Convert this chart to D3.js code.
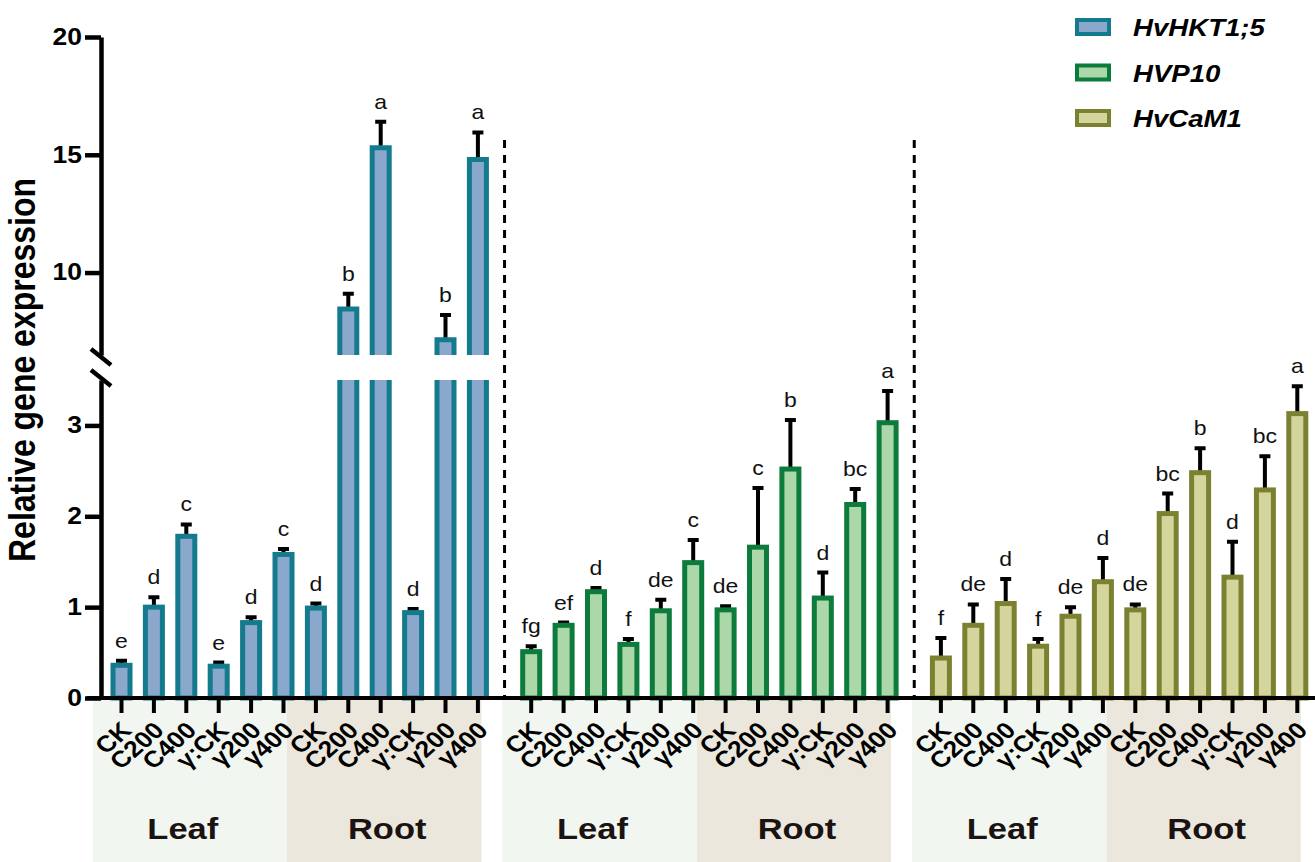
<!DOCTYPE html>
<html>
<head>
<meta charset="utf-8">
<script src="https://cdn.jsdelivr.net/npm/d3@7"></script>
<style>
body { margin: 0; background: #fff; }
text { font-family: "Liberation Sans", Arial, sans-serif; }
</style>
</head>
<body>
<svg width="1315" height="862"></svg>
<script>
// chart values
var genes = ["HvHKT1;5", "HVP10", "HvCaM1"];
var tissues = ["Leaf", "Root"];
var treatments = ["CK", "C200", "C400", "γ:CK", "γ200", "γ400"];

var hktMean = [0.36, 1.00, 1.78, 0.35, 0.83, 1.58, 0.99, 8.45, 15.3, 0.94, 7.15, 14.8];
var hktErr  = [0.05, 0.11, 0.13, 0.04, 0.06, 0.06, 0.05, 0.65, 1.10, 0.04, 1.05, 1.15];
var hktSig  = ["e", "d", "c", "e", "d", "c", "d", "b", "a", "d", "b", "a"];

var vp10Mean = [0.51, 0.80, 1.17, 0.59, 0.96, 1.49, 0.97, 1.66, 2.52, 1.10, 2.13, 3.03];
var vp10Err  = [0.06, 0.03, 0.04, 0.06, 0.12, 0.25, 0.04, 0.65, 0.54, 0.28, 0.17, 0.35];
var vp10Sig  = ["fg", "ef", "d", "f", "de", "c", "de", "c", "b", "d", "bc", "a"];

var camMean = [0.44, 0.80, 1.04, 0.57, 0.90, 1.28, 0.97, 2.03, 2.48, 1.33, 2.29, 3.13];
var camErr  = [0.22, 0.23, 0.27, 0.08, 0.10, 0.26, 0.06, 0.22, 0.27, 0.39, 0.37, 0.30];
var camSig  = ["f", "de", "d", "f", "de", "d", "de", "bc", "b", "d", "bc", "a"];

var yTicksLow = [0, 1, 2, 3];
var yTicksHigh = [10, 15, 20];
var yBreak = [3.5, 6.5];

var strokeColors = ["#147a8d", "#0c7b3b", "#7c8031"];
var fillColors = ["#8aa7cc", "#acd8a9", "#d4d59c"];
var bandColors = ["#f1f7f0", "#ece7dc"];

var means = [hktMean, vp10Mean, camMean],
    errs = [hktErr, vp10Err, camErr],
    sigs = [hktSig, vp10Sig, camSig];

var svg = d3.select("svg"),
    sx = 1.15; // figure is a bit stretched horizontally

var yLow = d3.scaleLinear().domain([0, yBreak[0]]).range([698, 380]),
    yHigh = d3.scaleLinear().domain([yBreak[1], 20]).range([355, 37]);

function yv(v) {
    return v <= yBreak[0] ? yLow(v) : yHigh(v);
}

var x0 = d3.scaleBand().domain(d3.range(genes.length)).range([105.3, 1313.5]).paddingInner(0.051),
    x1 = d3.scaleBand().domain(d3.range(tissues.length * treatments.length)).range([0, x0.bandwidth()]);

function cx(g, i) {
    return x0(g) + x1(i) + x1.bandwidth() / 2;
}

var data = genes.map(function (g, gi) {
    return {
        gi: gi,
        values: means[gi].map(function (m, i) {
            return { gi: gi, i: i, m: m, e: errs[gi][i], s: sigs[gi][i] };
        })
    };
});

// tissue bands below the axis
genes.forEach(function (g, gi) {
    tissues.forEach(function (t, ti) {
        var bx = x0(gi) + x1(ti * 6) - 12.7,
            bw = 6 * x1.step();
        svg.append("rect")
            .attr("x", bx).attr("y", 700)
            .attr("width", bw).attr("height", 162)
            .attr("fill", bandColors[ti]);
        svg.append("text")
            .attr("transform", "translate(" + (bx + bw / 2 + (ti == 0 ? -7 : 3)) + ",839) scale(" + sx + ",1)")
            .attr("text-anchor", "middle")
            .style("font-weight", "bold")
            .style("font-size", "30px")
            .attr("fill", "#1a1311")
            .text(t);
    });
});

// dashed separators
for (var k = 0; k < genes.length - 1; k++) {
    var dx = (x0(k) + x0.bandwidth() + x0(k + 1)) / 2;
    svg.append("line")
        .attr("x1", dx).attr("x2", dx)
        .attr("y1", 140).attr("y2", 698)
        .attr("stroke", "#000")
        .attr("stroke-width", 3)
        .attr("stroke-dasharray", "8,7");
}

var bars = svg.selectAll(".gene")
    .data(data)
    .enter().append("g")
    .attr("class", "gene");

var bar = bars.selectAll(".bar")
    .data(function (d) { return d.values; })
    .enter().append("g")
    .attr("class", "bar");

// error bars (upper only), drawn under the bars
bar.append("path")
    .attr("d", function (d) {
        var x = cx(d.gi, d.i), top = yv(d.m + d.e);
        return "M" + x + "," + yv(d.m) + "V" + top + "M" + (x - 5.5) + "," + top + "H" + (x + 5.5);
    })
    .attr("fill", "none")
    .attr("stroke", "#000")
    .attr("stroke-width", 4);

var bw = 17;
bar.each(function (d) {
    var g = d3.select(this),
        l = cx(d.gi, d.i) - bw / 2,
        r = l + bw,
        fill = fillColors[d.gi],
        stroke = strokeColors[d.gi];
    if (d.m <= yBreak[0]) {
        g.append("rect")
            .attr("x", l).attr("y", yLow(d.m))
            .attr("width", bw).attr("height", yLow(0) - yLow(d.m))
            .attr("fill", fill)
            .attr("stroke", stroke)
            .attr("stroke-width", 5);
    } else {
        // lower piece, open at the break
        g.append("rect")
            .attr("x", l).attr("y", yLow(yBreak[0]))
            .attr("width", bw).attr("height", yLow(0) - yLow(yBreak[0]))
            .attr("fill", fill);
        g.append("path")
            .attr("d", "M" + l + "," + yLow(0) + "V" + yLow(yBreak[0]) + "M" + r + "," + yLow(yBreak[0]) + "V" + yLow(0))
            .attr("stroke", stroke).attr("stroke-width", 5).attr("fill", "none");
        // upper piece
        g.append("rect")
            .attr("x", l).attr("y", yHigh(d.m))
            .attr("width", bw).attr("height", yHigh(yBreak[1]) - yHigh(d.m))
            .attr("fill", fill);
        g.append("path")
            .attr("d", "M" + l + "," + yHigh(yBreak[1]) + "V" + yHigh(d.m) + "H" + r + "V" + yHigh(yBreak[1]))
            .attr("stroke", stroke).attr("stroke-width", 5).attr("fill", "none");
    }
});

// significance letters
bar.append("text")
    .attr("transform", function (d) {
        return "translate(" + cx(d.gi, d.i) + "," + (yv(d.m + d.e) - 13) + ") scale(" + sx + ",1)";
    })
    .attr("text-anchor", "middle")
    .style("font-size", "20px")
    .attr("fill", "#111")
    .text(function (d) { return d.s; });

// x axis line, ticks and labels
svg.append("line")
    .attr("x1", 87).attr("x2", 1315)
    .attr("y1", 698).attr("y2", 698)
    .attr("stroke", "#000").attr("stroke-width", 4);

var tick = svg.selectAll(".xtick")
    .data(d3.merge(data.map(function (d) { return d.values; })))
    .enter().append("g")
    .attr("class", "xtick");

tick.append("line")
    .attr("x1", function (d) { return cx(d.gi, d.i); })
    .attr("x2", function (d) { return cx(d.gi, d.i); })
    .attr("y1", 698).attr("y2", 713)
    .attr("stroke", "#000").attr("stroke-width", 4);

tick.append("text")
    .attr("transform", function (d) {
        return "translate(" + (cx(d.gi, d.i) + 5) + ",726) scale(" + sx + ",1) rotate(-45)";
    })
    .attr("text-anchor", "end")
    .attr("dy", "0.35em")
    .style("font-weight", "bold")
    .style("font-size", "23px")
    .text(function (d) { return treatments[d.i % 6]; });

// broken y axis
function styleAxis(g) {
    g.attr("font-family", null).attr("font-size", null);
    g.select(".domain").attr("stroke-width", 4.5);
    g.selectAll(".tick line").attr("stroke-width", 4.5);
    g.selectAll(".tick text")
        .attr("x", -19 / sx)
        .attr("transform", "scale(" + sx + ",1)")
        .style("font-weight", "bold")
        .style("font-size", "23px");
}

svg.append("g")
    .attr("transform", "translate(101,0)")
    .call(d3.axisLeft(yLow).tickValues(yTicksLow).tickFormat(d3.format("d"))
        .tickSize(16).tickSizeOuter(0).tickPadding(3))
    .call(styleAxis);

svg.append("g")
    .attr("transform", "translate(101,0)")
    .call(d3.axisLeft(yHigh).tickValues(yTicksHigh).tickFormat(d3.format("d"))
        .tickSize(16).tickSizeOuter(0).tickPadding(3))
    .call(styleAxis);

[357, 378].forEach(function (by) {
    svg.append("line")
        .attr("x1", 91).attr("y1", by - 8)
        .attr("x2", 111).attr("y2", by + 8)
        .attr("stroke", "#000").attr("stroke-width", 4.5);
});

svg.append("text")
    .attr("transform", "translate(35,370) scale(" + sx + ",1) rotate(-90)")
    .attr("text-anchor", "middle")
    .style("font-weight", "bold")
    .style("font-size", "32px")
    .text("Relative gene expression");

// legend
var legend = svg.selectAll(".legend")
    .data(genes)
    .enter().append("g")
    .attr("class", "legend")
    .attr("transform", function (d, i) { return "translate(1077," + (20 + i * 45.5) + ")"; });

legend.append("rect")
    .attr("width", 32).attr("height", 14)
    .attr("fill", function (d, i) { return fillColors[i]; })
    .attr("stroke", function (d, i) { return strokeColors[i]; })
    .attr("stroke-width", 4);

legend.append("text")
    .attr("transform", "translate(56,16) scale(" + sx + ",1)")
    .style("font-weight", "bold")
    .style("font-style", "italic")
    .style("font-size", "24px")
    .text(function (d) { return d; });
</script>
</body>
</html>
